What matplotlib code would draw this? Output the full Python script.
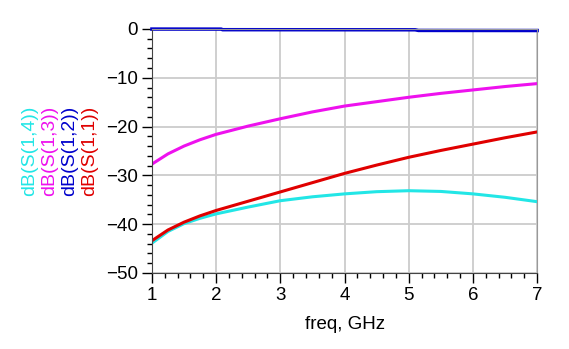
import numpy as np
import matplotlib
matplotlib.use("Agg")
import matplotlib.pyplot as plt
from matplotlib.ticker import MultipleLocator

plt.rcParams["font.family"] = ["Liberation Sans", "DejaVu Sans"]

# S-parameter sweep, dB
freq = [1, 1.25, 1.5, 1.75, 2, 2.5, 3, 3.5, 4, 4.5, 5, 5.5, 6, 6.5, 7]
s11 = [-43.4, -41.2, -39.6, -38.3, -37.2, -35.3, -33.4, -31.5, -29.6, -27.9, -26.3, -24.9, -23.6, -22.3, -21.1]
s13 = [-27.7, -25.6, -24.0, -22.7, -21.6, -19.9, -18.4, -17.0, -15.8, -14.9, -14.0, -13.2, -12.5, -11.8, -11.2]
s14 = [-43.9, -41.5, -39.9, -38.8, -37.9, -36.5, -35.2, -34.4, -33.8, -33.35, -33.15, -33.3, -33.8, -34.5, -35.4]
freq12 = [1, 2.08, 2.1, 5.1, 5.15, 7]
s12 = [-0.02, -0.03, -0.15, -0.17, -0.3, -0.32]

labels = ["dB(S(1,4))", "dB(S(1,3))", "dB(S(1,2))", "dB(S(1,1))"]
colors = ["#22e6e6", "#ee11ee", "#0000cc", "#e00000"]

fig = plt.figure(figsize=(5.69, 3.49), dpi=100)
ax = fig.add_axes([0.267, 0.218, 0.677, 0.699])

ax.plot(freq, s14, color=colors[0], lw=2.2)
ax.plot(freq, s11, color=colors[3], lw=2.2)
ax.plot(freq, s13, color=colors[1], lw=2.2)
ax.plot(freq12, s12, color=colors[2], lw=2.5, clip_on=False)

ax.set_xlim(1, 7)
ax.set_ylim(-50, 0)
ax.xaxis.set_major_locator(MultipleLocator(1))
ax.xaxis.set_minor_locator(MultipleLocator(0.2))
ax.yaxis.set_major_locator(MultipleLocator(10))
ax.yaxis.set_minor_locator(MultipleLocator(2))
ax.grid(True, which="major", color="#cccccc", lw=1.3)
ax.set_axisbelow(True)

ax.tick_params(which="major", direction="out", length=7, width=1, labelsize=13.5, pad=3)
ax.tick_params(which="minor", direction="out", length=3.5, width=1)
for side in ["top", "right"]:
    ax.spines[side].set_color("#999999")
ax.spines["left"].set_color("#444444")
ax.spines["bottom"].set_color("#444444")

ax.set_xlabel("freq, GHz", fontsize=13.5, labelpad=9)

# rotated trace names on the left
for i, (lab, col) in enumerate(zip(labels, colors)):
    fig.text((30 + 20 * i) / 569, 1 - 151 / 349, lab, color=col, rotation=90,
             fontsize=14, ha="center", va="center")

fig.savefig("out.png", dpi=100)
